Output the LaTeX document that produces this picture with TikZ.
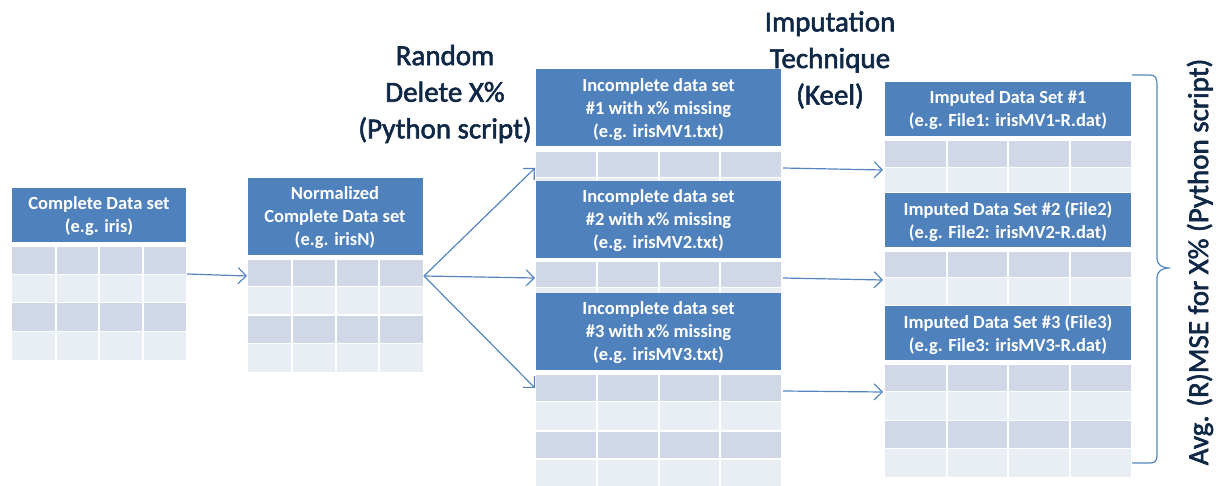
\documentclass[tikz,border=0pt]{standalone}
\usepackage{fontspec}
\setmainfont{Carlito}
\newfontface\lblfont{Carlito}[FakeBold=2]
\usetikzlibrary{arrows.meta}
\definecolor{hdrblue}{HTML}{4F81BD}
\definecolor{rowdark}{HTML}{D0D8E8}
\definecolor{rowlight}{HTML}{E9EDF4}
\definecolor{navy}{HTML}{0F2846}
\definecolor{arrowblue}{HTML}{5585C0}
\newcommand\cellrow[5]{%
  \fill[#5] (#1,#3) rectangle (#2,#4);
  \foreach \k in {1,2,3}{\draw[white,line width=1pt] ({#1+\k*(#2-#1)/4},#3) -- ({#1+\k*(#2-#1)/4},#4);}
}
\newcommand\hdrbox[4]{\fill[hdrblue] (#1,#3) rectangle (#2,#4);}
\begin{document}
\begin{tikzpicture}[x=0.5pt,y=-0.5pt,
  htext/.style={text=white,font=\fontsize{9.25}{11.5}\selectfont\bfseries,align=center,inner sep=0pt},
  label/.style={text=navy,font=\fontsize{14.5}{18.3}\selectfont\lblfont,align=center,inner sep=0pt},
  conn/.style={arrowblue,line width=0.6pt,-{Straight Barb[length=4pt,width=8pt]}}]
\useasboundingbox (0,0) rectangle (1222,486);
% Table 1
\hdrbox{12}{186}{188}{242}
\cellrow{12}{186}{247}{274}{rowdark}
\cellrow{12}{186}{275}{302}{rowlight}
\cellrow{12}{186}{303}{331}{rowdark}
\cellrow{12}{186}{332}{360}{rowlight}
\node[htext] (t1) at (99,216) {Complete Data set\\(e.g. iris)};
% Table 2
\hdrbox{248}{423}{178}{255}
\cellrow{248}{423}{260}{286}{rowdark}
\cellrow{248}{423}{287}{314}{rowlight}
\cellrow{248}{423}{316}{343}{rowdark}
\cellrow{248}{423}{344}{372}{rowlight}
\node[htext] (t2) at (335,218) {Normalized\\Complete Data set\\(e.g. irisN)};
% Column 3
\hdrbox{536}{781}{69}{146}
\cellrow{536}{781}{152}{177}{rowdark}
\cellrow{536}{781}{178}{181}{rowlight}
\hdrbox{536}{781}{181}{258}
\cellrow{536}{781}{262}{287}{rowdark}
\cellrow{536}{781}{288}{293}{rowlight}
\hdrbox{536}{781}{293}{370}
\cellrow{536}{781}{375}{401}{rowdark}
\cellrow{536}{781}{402}{430}{rowlight}
\cellrow{536}{781}{432}{458}{rowdark}
\cellrow{536}{781}{460}{486}{rowlight}
\node[htext] (m1) at (658.5,110) {Incomplete data set\\\#1 with x\% missing\\(e.g. irisMV1.txt)};
\node[htext] (m2) at (658.5,221) {Incomplete data set\\\#2 with x\% missing\\(e.g. irisMV2.txt)};
\node[htext] (m3) at (658.5,333) {Incomplete data set\\\#3 with x\% missing\\(e.g. irisMV3.txt)};
% Column 4
\hdrbox{885}{1131}{82}{136}
\cellrow{885}{1131}{141}{167}{rowdark}
\cellrow{885}{1131}{168}{192}{rowlight}
\hdrbox{885}{1131}{193}{247}
\cellrow{885}{1131}{252}{277}{rowdark}
\cellrow{885}{1131}{278}{305}{rowlight}
\hdrbox{885}{1131}{306}{360}
\cellrow{885}{1131}{365}{391}{rowdark}
\cellrow{885}{1131}{392}{420}{rowlight}
\cellrow{885}{1131}{421}{448}{rowdark}
\cellrow{885}{1131}{449}{477}{rowlight}
\node[htext] (r1) at (1008,110.5) {Imputed Data Set \#1\\(e.g. File1: irisMV1-R.dat)};
\node[htext] (r2) at (1008,221.5) {Imputed Data Set \#2 (File2)\\(e.g. File2: irisMV2-R.dat)};
\node[htext] (r3) at (1008,334.5) {Imputed Data Set \#3 (File3)\\(e.g. File3: irisMV3-R.dat)};
% Labels
\node[label] (l1) at (445,94) {Random\\Delete X\%\\(Python script)};
\node[label] (l2) at (830,60) {Imputation\\Technique\\(Keel)};
\node[label,rotate=90] (l3) at (1200,262) {Avg. (R)MSE for X\% (Python script)};
% Connectors
\coordinate (a1s) at (187,274);
\coordinate (a1e) at (247,276);
\coordinate (b0) at (424,276);
\coordinate (b1) at (535,168);
\coordinate (b2) at (535,278);
\coordinate (b3) at (535,388);
\coordinate (c1s) at (783,168);
\coordinate (c1e) at (883,170);
\coordinate (c2s) at (783,278);
\coordinate (c2e) at (883,280);
\coordinate (c3s) at (783,391);
\coordinate (c3e) at (883,392);
\draw[conn] (a1s) -- (a1e);
\draw[conn] (b0) -- (b1);
\draw[conn] (b0) -- (b2);
\draw[conn] (b0) -- (b3);
\draw[conn] (c1s) -- (c1e);
\draw[conn] (c2s) -- (c2e);
\draw[conn] (c3s) -- (c3e);
% Brace
\coordinate (bt) at (1132,75);
\coordinate (bb) at (1132,463);
\draw[arrowblue,line width=0.6pt] (bt) -- (1150,75) .. controls (1155,75) and (1157,78) .. (1157,84) -- (1157,258) .. controls (1157,265) and (1162,268) .. (1170,268) .. controls (1162,268) and (1157,271) .. (1157,278) -- (1157,455) .. controls (1157,461) and (1155,463) .. (1150,463) -- (bb);
\end{tikzpicture}
\end{document}
